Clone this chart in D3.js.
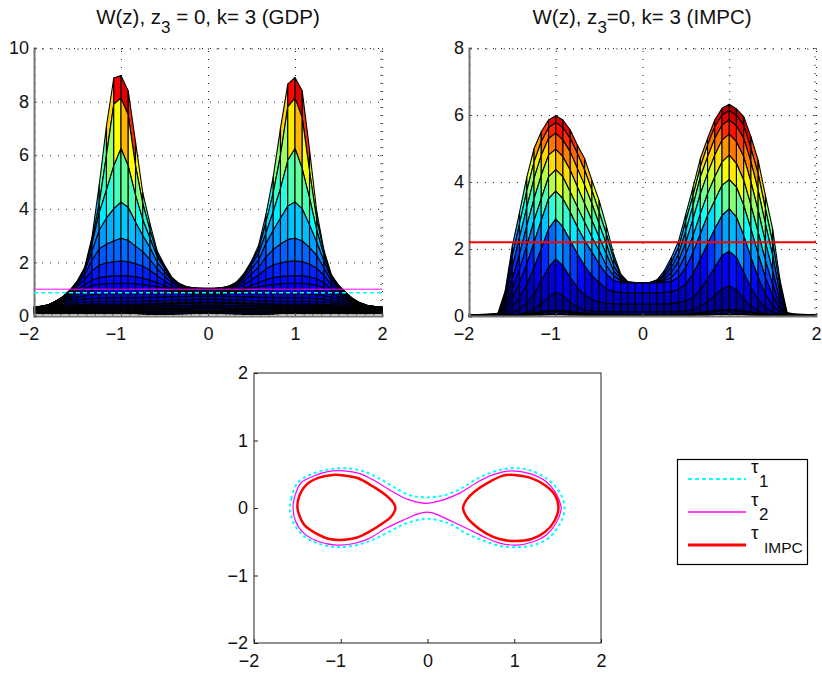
<!DOCTYPE html>
<html>
<head>
<meta charset="utf-8">
<script src="https://d3js.org/d3.v7.min.js"></script>
<style>
  body { margin: 0; background: #fff; }
  text { font-family: "Liberation Sans", Arial, sans-serif; fill: #111; }
</style>
</head>
<body>
<div id="container"></div>
<script>
const svgWidth = 822;
const svgHeight = 673;

// surface columns, one per x, heights of the mesh rows from the top row down
const xGrid = [-2, -1.917, -1.833, -1.75, -1.667, -1.583, -1.5, -1.417, -1.333, -1.25, -1.167, -1.083, -1, -0.917, -0.833, -0.75, -0.667, -0.583, -0.5, -0.417, -0.333, -0.25, -0.167, -0.083, 0,
  0.083, 0.167, 0.25, 0.333, 0.417, 0.5, 0.583, 0.667, 0.75, 0.833, 0.917, 1, 1.083, 1.167, 1.25, 1.333, 1.417, 1.5, 1.583, 1.667, 1.75, 1.833, 1.917, 2];

const gdpHeights = [
  [.33,.33,.33,.33,.33,.33,.32,.32,.31,.31,.30,.28,.26,.23,.19,.14,.10],
  [.36,.36,.36,.36,.36,.35,.35,.35,.34,.33,.32,.30,.28,.24,.20,.15,.10],
  [.42,.42,.42,.42,.42,.41,.40,.40,.39,.37,.36,.33,.30,.26,.21,.15,.10],
  [.55,.55,.55,.55,.54,.53,.52,.50,.48,.46,.43,.39,.34,.28,.22,.15,.10],
  [.72,.72,.72,.71,.70,.68,.65,.62,.58,.54,.49,.43,.37,.30,.23,.16,.10],
  [.98,.97,.97,.95,.93,.88,.82,.76,.70,.63,.55,.47,.39,.31,.23,.16,.10],
  [1.32,1.30,1.29,1.26,1.20,1.11,.99,.90,.80,.70,.60,.50,.41,.32,.24,.16,.10],
  [1.82,1.78,1.75,1.67,1.54,1.36,1.16,1.01,.88,.75,.63,.52,.42,.32,.24,.16,.10],
  [2.95,2.8,2.67,2.42,2.07,1.68,1.34,1.13,.95,.79,.65,.53,.43,.33,.24,.16,.10],
  [4.9,4.2,3.86,3.2,2.5,1.89,1.43,1.18,.98,.81,.66,.54,.43,.33,.24,.16,.10],
  [7.1,6.0,4.7,3.65,2.68,1.98,1.47,1.2,.99,.82,.67,.54,.43,.33,.24,.16,.10],
  [8.88,7.9,5.6,4.0,2.8,2.02,1.49,1.21,1,.82,.67,.54,.43,.33,.24,.16,.10],
  [8.97,8.13,6.25,4.25,2.9,2.05,1.5,1.22,1,.82,.67,.54,.43,.33,.24,.16,.10],
  [8.4,7.5,5.6,4.05,2.82,2.02,1.49,1.21,1,.82,.67,.54,.43,.33,.24,.16,.10],
  [6.5,5.6,4.5,3.5,2.6,1.95,1.46,1.2,.99,.82,.67,.54,.43,.33,.24,.16,.10],
  [4.6,4.2,3.6,3.0,2.4,1.86,1.41,1.17,.98,.82,.68,.55,.44,.34,.25,.16,.08],
  [3.45,3.2,2.9,2.55,2.1,1.7,1.33,1.13,.97,.82,.69,.56,.45,.35,.25,.17,.07],
  [2.42,2.3,2.2,2.0,1.75,1.5,1.24,1.09,.96,.83,.7,.57,.46,.35,.26,.17,.07],
  [1.9,1.85,1.77,1.65,1.5,1.3,1.14,1.05,.94,.83,.71,.58,.47,.36,.26,.17,.07],
  [1.45,1.43,1.38,1.32,1.23,1.12,1.03,1.0,.93,.83,.72,.59,.47,.36,.27,.17,.07],
  [1.22,1.2,1.18,1.14,1.1,1.03,.98,.97,.91,.83,.73,.6,.48,.37,.27,.18,.08],
  [1.1,1.09,1.08,1.06,1.03,.98,.97,.96,.9,.83,.73,.6,.49,.37,.27,.18,.09],
  [1.05,1.05,1.04,1.03,1.01,.99,.97,.95,.89,.82,.74,.61,.49,.38,.28,.18,.10],
  [1.03,1.03,1.03,1.02,1.01,.99,.98,.95,.88,.82,.74,.62,.5,.38,.28,.18,.10],
  [1.03,1.03,1.02,1.02,1.01,1.0,.98,.95,.88,.82,.74,.62,.5,.38,.28,.18,.10],
  [1.03,1.03,1.03,1.02,1.01,.99,.98,.95,.88,.82,.74,.62,.5,.38,.28,.18,.10],
  [1.06,1.06,1.05,1.04,1.02,.99,.97,.95,.89,.82,.74,.61,.49,.38,.28,.18,.10],
  [1.13,1.12,1.1,1.08,1.05,.99,.97,.96,.9,.83,.73,.6,.49,.37,.27,.18,.09],
  [1.28,1.26,1.23,1.18,1.12,1.05,.98,.97,.91,.83,.73,.6,.48,.37,.27,.18,.08],
  [1.6,1.57,1.5,1.42,1.3,1.17,1.03,1.0,.93,.83,.72,.59,.47,.36,.27,.17,.07],
  [2.05,2.0,1.9,1.75,1.57,1.35,1.14,1.05,.94,.83,.71,.58,.47,.36,.26,.17,.07],
  [2.65,2.5,2.35,2.1,1.82,1.53,1.24,1.09,.96,.83,.7,.57,.46,.35,.26,.17,.07],
  [3.8,3.5,3.1,2.7,2.2,1.75,1.35,1.13,.97,.82,.69,.56,.45,.35,.25,.17,.07],
  [5.2,4.6,3.9,3.2,2.48,1.9,1.43,1.17,.98,.82,.68,.55,.44,.34,.25,.16,.08],
  [7.0,6.0,4.75,3.65,2.68,1.98,1.47,1.2,.99,.82,.67,.54,.43,.33,.24,.16,.10],
  [8.65,7.8,5.8,4.1,2.85,2.03,1.49,1.21,1,.82,.67,.54,.43,.33,.24,.16,.10],
  [8.9,8.13,6.25,4.25,2.9,2.05,1.5,1.22,1,.82,.67,.54,.43,.33,.24,.16,.10],
  [8.4,7.4,5.5,4.0,2.8,2.02,1.49,1.21,1,.82,.67,.54,.43,.33,.24,.16,.10],
  [6.2,5.4,4.4,3.4,2.55,1.93,1.46,1.19,.98,.81,.66,.54,.43,.33,.24,.16,.10],
  [3.9,3.6,3.2,2.75,2.25,1.78,1.38,1.14,.95,.79,.65,.53,.42,.33,.24,.16,.10],
  [2.45,2.38,2.25,2.05,1.8,1.52,1.24,1.06,.9,.76,.63,.52,.42,.32,.24,.16,.10],
  [1.55,1.53,1.48,1.4,1.3,1.16,1.0,.89,.79,.68,.58,.49,.4,.32,.24,.16,.10],
  [1.15,1.14,1.12,1.09,1.04,.97,.88,.8,.72,.63,.55,.47,.39,.31,.23,.16,.10],
  [.88,.88,.87,.85,.83,.8,.74,.69,.63,.57,.5,.44,.37,.3,.23,.16,.10],
  [.64,.64,.63,.63,.62,.6,.57,.55,.52,.48,.44,.39,.34,.29,.22,.15,.10],
  [.49,.49,.49,.48,.48,.47,.46,.44,.43,.41,.38,.35,.31,.26,.21,.15,.10],
  [.39,.39,.39,.39,.39,.38,.37,.37,.36,.35,.33,.31,.28,.24,.2,.15,.10],
  [.35,.35,.35,.35,.35,.35,.34,.34,.33,.32,.31,.29,.27,.23,.19,.14,.10],
  [.33,.33,.33,.33,.33,.33,.32,.32,.31,.31,.30,.28,.26,.23,.19,.14,.10]
];

const impcHeights = [
  [.03,.03,.03,.03,.02,.02,.02,.01,.01,.01,0],
  [.04,.04,.03,.03,.03,.02,.02,.01,.01,0,0],
  [.05,.04,.04,.03,.03,.02,.02,.01,.01,0,0],
  [.06,.05,.05,.04,.03,.03,.02,.01,.01,0,0],
  [.08,.07,.06,.05,.04,.03,.02,.02,.01,.01,0],
  [.75,.6,.45,.32,.22,.14,.08,.04,.02,.01,.01],
  [2.1,1.8,1.45,1.1,.8,.52,.26,.09,.03,.02,.01],
  [3.1,2.75,2.35,1.85,1.4,1.0,.55,.2,.05,.03,.02],
  [4.15,3.75,3.25,2.7,2.1,1.55,.95,.38,.1,.06,.03],
  [5.0,4.6,4.1,3.5,2.85,2.2,1.45,.65,.2,.09,.04],
  [5.5,5.2,4.8,4.2,3.5,2.85,2.0,1.05,.38,.12,.04],
  [5.85,5.62,5.3,4.8,4.15,3.5,2.6,1.45,.55,.14,.05],
  [5.98,5.78,5.46,4.98,4.37,3.73,2.89,1.7,.72,.15,.05],
  [5.85,5.62,5.25,4.75,4.15,3.5,2.65,1.5,.6,.14,.05],
  [5.55,5.3,4.9,4.35,3.7,3.1,2.25,1.15,.4,.12,.04],
  [5.1,4.85,4.4,3.85,3.25,2.65,1.85,.85,.25,.1,.04],
  [4.7,4.35,3.9,3.35,2.8,2.25,1.5,.62,.17,.08,.03],
  [4.05,3.75,3.35,2.85,2.35,1.9,1.2,.5,.14,.06,.03],
  [3.45,3.1,2.75,2.35,1.95,1.55,1.0,.42,.13,.05,.02],
  [2.7,2.45,2.15,1.85,1.5,1.25,.8,.38,.13,.04,.02],
  [1.85,1.7,1.5,1.35,1.2,1.05,.72,.36,.12,.04,.02],
  [1.25,1.2,1.15,1.1,1.05,1.0,.7,.36,.12,.03,.02],
  [1.02,1.01,1,1,1,.99,.68,.35,.12,.03,.01],
  [1,1,1,1,1,.99,.68,.35,.12,.03,.01],
  [1,1,1,1,1,.99,.68,.35,.12,.03,.01],
  [1,1,1,1,1,.99,.68,.35,.12,.03,.01],
  [1.08,1.05,1.03,1.01,1,.99,.68,.35,.12,.03,.01],
  [1.35,1.25,1.18,1.1,1.05,1.0,.7,.36,.12,.03,.02],
  [1.75,1.6,1.45,1.3,1.15,1.03,.72,.37,.12,.04,.02],
  [2.25,2.05,1.85,1.65,1.4,1.15,.8,.4,.13,.04,.02],
  [3.05,2.85,2.55,2.2,1.85,1.45,.95,.45,.15,.05,.03],
  [3.85,3.6,3.3,2.9,2.4,1.9,1.25,.55,.18,.07,.03],
  [4.7,4.45,4.15,3.65,3.05,2.45,1.7,.78,.28,.09,.04],
  [5.3,5.1,4.75,4.25,3.65,3.0,2.15,1.1,.43,.12,.04],
  [5.85,5.65,5.3,4.8,4.15,3.45,2.6,1.45,.62,.15,.05],
  [6.2,6.0,5.7,5.25,4.6,3.9,3.0,1.8,.8,.17,.05],
  [6.32,6.13,5.85,5.43,4.8,4.07,3.2,1.93,.9,.18,.05],
  [6.18,5.98,5.68,5.2,4.55,3.85,2.95,1.75,.78,.17,.05],
  [5.95,5.7,5.3,4.75,4.05,3.3,2.4,1.3,.5,.14,.05],
  [5.35,5.0,4.6,4.0,3.3,2.6,1.75,.85,.28,.1,.04],
  [4.65,4.25,3.75,3.15,2.5,1.85,1.15,.48,.14,.07,.03],
  [3.6,3.2,2.75,2.2,1.65,1.15,.65,.24,.07,.04,.02],
  [2.6,2.2,1.8,1.35,.95,.62,.32,.11,.04,.02,.01],
  [1.1,.9,.68,.48,.32,.2,.1,.05,.02,.01,.01],
  [.1,.09,.07,.06,.05,.04,.03,.02,.01,.01,0],
  [.06,.05,.05,.04,.03,.03,.02,.01,.01,0,0],
  [.05,.04,.04,.03,.03,.02,.02,.01,.01,0,0],
  [.04,.04,.03,.03,.03,.02,.02,.01,.01,0,0],
  [.03,.03,.03,.03,.02,.02,.02,.01,.01,.01,0]
];

// threshold lines of the two surface plots
const gdpTau1 = 0.87;
const gdpTau2 = 1.0;
const impcTau = 2.2;

// contours of the bottom plot, [x, y]
const tau1Contour = [[-1.585,0],[-1.57,.14],[-1.5,.37],[-1.34,.5],[-1.15,.57],[-.96,.59],[-.78,.56],[-.59,.46],[-.4,.32],[-.21,.19],[0,.16],[.2,.19],[.39,.29],[.58,.44],[.77,.54],[.97,.59],[1.18,.56],[1.39,.42],[1.52,.24],[1.58,0],
  [1.52,-.25],[1.39,-.45],[1.22,-.55],[1.02,-.58],[.83,-.56],[.64,-.48],[.45,-.38],[.25,-.23],[0,-.16],[-.25,-.23],[-.44,-.35],[-.63,-.47],[-.82,-.55],[-1.03,-.58],[-1.25,-.53],[-1.44,-.4],[-1.55,-.2]];
const tau2Contour = [[-1.55,.02],[-1.53,.17],[-1.46,.37],[-1.32,.47],[-1.15,.54],[-.96,.55],[-.78,.51],[-.59,.39],[-.4,.24],[-.21,.12],[-.02,.07],[.18,.12],[.37,.22],[.56,.37],[.75,.49],[.97,.55],[1.18,.51],[1.37,.39],[1.48,.22],[1.54,.02],
  [1.54,-.03],[1.48,-.23],[1.37,-.4],[1.22,-.5],[1.02,-.55],[.83,-.52],[.64,-.42],[.45,-.3],[.25,-.18],[.1,-.09],[0,-.06],[-.09,-.08],[-.28,-.18],[-.48,-.3],[-.67,-.45],[-.86,-.53],[-1.05,-.55],[-1.25,-.5],[-1.42,-.38],[-1.52,-.2]];
const impcLeftContour = [[-1.5,.02],[-1.48,.17],[-1.4,.34],[-1.25,.45],[-1.09,.49],[-.96,.48],[-.8,.44],[-.63,.32],[-.48,.19],[-.4,.09],[-.37,0],[-.42,-.13],[-.52,-.23],[-.67,-.35],[-.82,-.44],[-.96,-.47],[-1.13,-.46],[-1.28,-.38],[-1.42,-.25],[-1.48,-.1]];
const impcRightContour = [[.41,0],[.45,.12],[.54,.24],[.72,.39],[.87,.48],[1,.49],[1.18,.45],[1.35,.34],[1.47,.19],[1.51,0],[1.46,-.2],[1.35,-.36],[1.2,-.46],[1,-.49],[.83,-.46],[.68,-.38],[.52,-.23],[.45,-.13]];

const xTicks = [-2, -1, 0, 1, 2];
const gdpYTicks = [0, 2, 4, 6, 8, 10];
const impcYTicks = [0, 2, 4, 6, 8];
const contourYTicks = [-2, -1, 0, 1, 2];

const tickFontSize = '18px';
const tickFormat = d => (d < 0 ? `\u2212${-d}` : `${d}`);

const jet = d3
  .scaleLinear()
  .domain([0, 0.125, 0.375, 0.625, 0.875, 1])
  .range(['#000080', '#0000ff', '#00ffff', '#ffff00', '#ff0000', '#800000'])
  .clamp(true);

const svg = d3
  .select('#container')
  .append('svg')
  .attr('width', svgWidth)
  .attr('height', svgHeight);

const drawSurface = (box, yMax, yTicks, yMinorStep, heights, heavyRows) => {
  const x = d3.scaleLinear().domain([-2, 2]).range([box.left, box.right]);
  const y = d3.scaleLinear().domain([0, yMax]).range([box.bottom, box.top]);
  const g = svg.append('g');

  // Grid
  const dotted = g.append('g').attr('stroke', '#222').attr('stroke-dasharray', '1,7');
  dotted
    .selectAll('line.h')
    .data(yTicks.slice(1))
    .enter()
    .append('line')
    .attr('class', 'h')
    .attr('x1', box.left)
    .attr('x2', box.right)
    .attr('y1', d => y(d) + 0.5)
    .attr('y2', d => y(d) + 0.5);
  dotted
    .selectAll('line.v')
    .data(xTicks.slice(1))
    .enter()
    .append('line')
    .attr('class', 'v')
    .attr('x1', d => x(d) + 0.5)
    .attr('x2', d => x(d) + 0.5)
    .attr('y1', box.bottom)
    .attr('y2', box.top);

  // Minor ticks on all four sides
  const xMinor = d3.range(-2, 2.001, 0.1);
  const yMinor = d3.range(0, yMax + 0.001, yMinorStep);
  [[d3.axisBottom(x), box.bottom], [d3.axisTop(x), box.top]].forEach(([axis, pos]) => {
    g.append('g')
      .attr('transform', `translate(0,${pos})`)
      .call(axis.tickValues(xMinor).tickSize(-2).tickFormat(''))
      .call(a => a.select('.domain').remove())
      .selectAll('line')
      .attr('stroke', '#777');
  });
  [[d3.axisLeft(y), box.left], [d3.axisRight(y), box.right]].forEach(([axis, pos]) => {
    g.append('g')
      .attr('transform', `translate(${pos},0)`)
      .call(axis.tickValues(yMinor).tickSize(-2).tickFormat(''))
      .call(a => a.select('.domain').remove())
      .selectAll('line')
      .attr('stroke', '#777');
  });

  // Mesh, painted from the top row down
  const zMax = d3.max(heights, c => c[0]);
  const quads = [];
  const rows = heights[0].length;
  for (let k = 0; k < rows - 1; k++) {
    for (let i = 0; i < xGrid.length - 1; i++) {
      quads.push({
        points: [
          [x(xGrid[i]), y(heights[i][k])],
          [x(xGrid[i + 1]), y(heights[i + 1][k])],
          [x(xGrid[i + 1]), y(heights[i + 1][k + 1])],
          [x(xGrid[i]), y(heights[i][k + 1])]
        ],
        value: heights[i][k + 1] / zMax,
        heavy: k >= rows - 1 - heavyRows
      });
    }
  }
  g.append('g')
    .selectAll('path')
    .data(quads)
    .enter()
    .append('path')
    .attr('d', d => `M${d.points.join('L')}Z`)
    .attr('fill', d => jet(d.value))
    .attr('stroke', '#000')
    .attr('stroke-width', d => (d.heavy ? 2 : 1.1))
    .attr('stroke-linejoin', 'round');

  // Main axes
  const xAxis = g
    .append('g')
    .attr('transform', `translate(0,${box.bottom})`)
    .call(d3.axisBottom(x).tickValues(xTicks).tickFormat(tickFormat).tickSize(-3).tickPadding(11));
  const yAxis = g
    .append('g')
    .attr('transform', `translate(${box.left},0)`)
    .call(d3.axisLeft(y).tickValues(yTicks).tickFormat(tickFormat).tickSize(-3).tickPadding(5));
  [xAxis, yAxis].forEach(a => {
    a.select('.domain').attr('stroke', '#777').attr('stroke-width', 2);
    a.selectAll('line').attr('stroke', '#555');
    a.selectAll('text').style('font-size', tickFontSize);
  });
  xAxis.selectAll('text').attr('dx', d => (d < 0 ? '-5.5' : null));

  return { x, y, g };
};

const title = (cx, parts) => {
  const t = svg
    .append('text')
    .attr('x', cx)
    .attr('y', 24)
    .attr('text-anchor', 'middle')
    .style('font-size', '20.5px');
  t.append('tspan').text(parts[0]);
  t.append('tspan').attr('dy', 9).style('font-size', '17px').text('3');
  t.append('tspan').attr('dy', -9).text(parts[1]);
};

// Top left, GDP
const gdp = drawSurface({ left: 34, right: 382, top: 48, bottom: 316 }, 10, gdpYTicks, 0.3, gdpHeights, 4);
gdp.g
  .append('line')
  .attr('x1', gdp.x(-2))
  .attr('x2', gdp.x(2))
  .attr('y1', gdp.y(gdpTau2))
  .attr('y2', gdp.y(gdpTau2))
  .attr('stroke', '#f0f')
  .attr('stroke-opacity', 0.65)
  .attr('stroke-width', 1.6);
gdp.g
  .append('line')
  .attr('x1', gdp.x(-2))
  .attr('x2', gdp.x(2))
  .attr('y1', gdp.y(gdpTau1))
  .attr('y2', gdp.y(gdpTau1))
  .attr('stroke', '#0ff')
  .attr('stroke-width', 1.6)
  .attr('stroke-dasharray', '4,3');
title(208, ['W(z), z', ' = 0, k= 3 (GDP)']);

// Top right, IMPC
const impc = drawSurface({ left: 469, right: 816, top: 48, bottom: 316 }, 8, impcYTicks, 0.25, impcHeights, 1);
impc.g
  .append('line')
  .attr('x1', impc.x(-2))
  .attr('x2', impc.x(2))
  .attr('y1', impc.y(impcTau))
  .attr('y2', impc.y(impcTau))
  .attr('stroke', '#f00')
  .attr('stroke-width', 2);
title(642, ['W(z), z', '=0, k= 3 (IMPC)']);

// Bottom, contours
const cBox = { left: 254, right: 601, top: 373, bottom: 643 };
const cx = d3.scaleLinear().domain([-2, 2]).range([cBox.left, cBox.right]);
const cy = d3.scaleLinear().domain([-2, 2]).range([cBox.bottom, cBox.top]);
const contourLine = d3
  .line()
  .x(d => cx(d[0]))
  .y(d => cy(d[1]))
  .curve(d3.curveCatmullRomClosed);

svg
  .append('rect')
  .attr('x', cBox.left)
  .attr('y', cBox.top)
  .attr('width', cBox.right - cBox.left)
  .attr('height', cBox.bottom - cBox.top)
  .attr('fill', 'none')
  .attr('stroke', '#222');

const contourX = svg
  .append('g')
  .attr('transform', `translate(0,${cBox.bottom})`)
  .call(d3.axisBottom(cx).tickValues(xTicks).tickFormat(tickFormat).tickSize(-4).tickPadding(11));
const contourY = svg
  .append('g')
  .attr('transform', `translate(${cBox.left},0)`)
  .call(d3.axisLeft(cy).tickValues(contourYTicks).tickFormat(tickFormat).tickSize(-4).tickPadding(6));
[contourX, contourY].forEach(a => {
  a.select('.domain').remove();
  a.selectAll('line').attr('stroke', '#222');
  a.selectAll('text').style('font-size', tickFontSize);
});
contourX.selectAll('text').attr('dx', d => (d < 0 ? '-5.5' : null));

const contourStyles = [
  { data: tau1Contour, color: '#0ff', width: 2, dash: '3,3' },
  { data: tau2Contour, color: '#f0f', width: 1.2, dash: null },
  { data: impcLeftContour, color: '#f00', width: 2.5, dash: null },
  { data: impcRightContour, color: '#f00', width: 2.5, dash: null }
];
svg
  .selectAll('path.contour')
  .data(contourStyles)
  .enter()
  .append('path')
  .attr('class', 'contour')
  .attr('d', d => contourLine(d.data))
  .attr('fill', 'none')
  .attr('stroke', d => d.color)
  .attr('stroke-width', d => d.width)
  .attr('stroke-dasharray', d => d.dash);

// Legend
const legend = svg.append('g');
legend
  .append('rect')
  .attr('x', 677.5)
  .attr('y', 459.5)
  .attr('width', 130)
  .attr('height', 105)
  .attr('fill', 'none')
  .attr('stroke', '#000')
  .attr('stroke-width', 1.2);

const legendItems = [
  { y: 479, color: '#0ff', width: 2, dash: '4,3', sub: '1', subX: 759, subSize: '17px' },
  { y: 512, color: '#f0f', width: 1.4, dash: null, sub: '2', subX: 759, subSize: '17px' },
  { y: 545, color: '#f00', width: 3, dash: null, sub: 'IMPC', subX: 764, subSize: '15.5px' }
];
legendItems.forEach(d => {
  legend
    .append('line')
    .attr('x1', 688)
    .attr('x2', 746)
    .attr('y1', d.y)
    .attr('y2', d.y)
    .attr('stroke', d.color)
    .attr('stroke-width', d.width)
    .attr('stroke-dasharray', d.dash);
  legend
    .append('text')
    .attr('x', 751)
    .attr('y', d.y - 6)
    .style('font-size', '19px')
    .text('\u03c4');
  legend
    .append('text')
    .attr('x', d.subX)
    .attr('y', d.y + 8)
    .style('font-size', d.subSize)
    .text(d.sub);
});
</script>
</body>
</html>
